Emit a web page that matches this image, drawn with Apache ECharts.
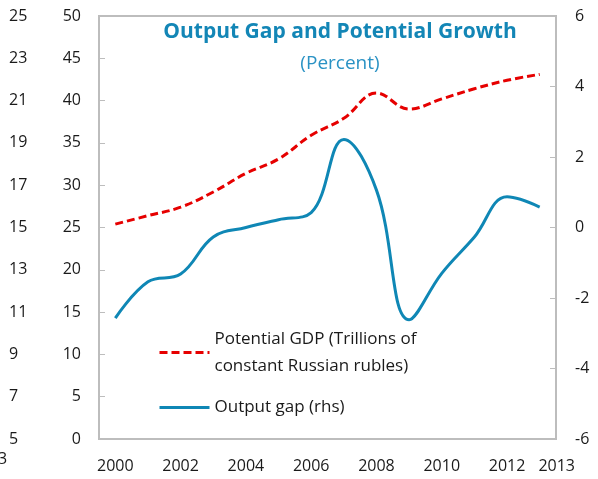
<!DOCTYPE html>
<html>
<head>
<meta charset="utf-8">
<script src="https://cdn.jsdelivr.net/npm/echarts@6/dist/echarts.min.js"></script>
<style>
  html, body { margin: 0; padding: 0; background: #fff; }
  #chart { width: 598px; height: 479px; }
</style>
</head>
<body>
<div id="chart"></div>
<script>
// annual data
var years = ['2000', '2001', '2002', '2003', '2004', '2005', '2006',
  '2007', '2008', '2009', '2010', '2011', '2012', '2013']
var potentialGdp = [25.4, 26.4, 27.4, 29.2, 31.4, 33.1, 35.9, 37.9, 40.9, 39.0, 40.2, 41.4, 42.4, 43.1]
var outputGap = [-2.57, -1.54, -1.32, -0.27, 0.0, 0.22, 0.42, 2.5, 1.06, -2.62, -1.3, -0.27, 0.87, 0.58]

var gdpName = 'Potential GDP (Trillions of constant Russian rubles)'
var gapName = 'Output gap (rhs)'

var font = 'Open Sans'
var gray = '#bdbdbd'
var labelStyle = { color: '#1a1a1a', fontSize: 16, fontFamily: font }

var chart = echarts.init(document.getElementById('chart'))

var option = {
  animation: false,
  title: {
    text: 'Output Gap and Potential Growth',
    subtext: '(Percent)',
    left: 335,
    textAlign: 'center',
    top: 17,
    itemGap: 11,
    textStyle: { color: '#1386b6', fontSize: 21, fontWeight: 'bold', fontFamily: font },
    subtextStyle: { color: '#2a92c4', fontSize: 19, fontFamily: font }
  },
  legend: {
    orient: 'vertical',
    left: 153,
    top: 307,
    itemWidth: 50,
    itemHeight: 14,
    itemGap: 1,
    itemStyle: { opacity: 0 },
    lineStyle: { width: 3 },
    data: [
      { name: gdpName, textStyle: { padding: [27, 0, 0, 0] } },
      { name: gapName }
    ],
    formatter: function(name) {
      return name === gdpName ? 'Potential GDP (Trillions of\nconstant Russian rubles)' : name
    },
    textStyle: { color: '#1a1a1a', fontSize: 17, fontFamily: font, lineHeight: 27 }
  },
  grid: {
    left: 99,
    right: 42,
    top: 16,
    bottom: 40,
    show: true,
    borderColor: gray,
    borderWidth: 2
  },
  xAxis: {
    type: 'category',
    data: years,
    boundaryGap: true,
    axisLine: { lineStyle: { color: gray, width: 2 } },
    axisTick: { inside: true, interval: 1, length: 6, lineStyle: { color: gray } },
    axisLabel: Object.assign({
      margin: 19,
      interval: function(i) { return i % 2 === 0 || i === 13 },
      formatter: function(v, i) { return i === 13 ? '{shift|' + v + '}' : v },
      rich: { shift: { padding: [0, 0, 0, 34], fontSize: 16, fontFamily: font, color: '#1a1a1a' } }
    }, labelStyle)
  },
  yAxis: [
    {
      type: 'value',
      position: 'left',
      min: 0,
      max: 50,
      interval: 5,
      splitLine: { show: false },
      axisLine: { show: true, lineStyle: { color: gray, width: 2 } },
      axisTick: { show: true, inside: true, length: 6, lineStyle: { color: gray } },
      axisLabel: Object.assign({ margin: 18 }, labelStyle)
    },
    {
      type: 'value',
      position: 'right',
      min: -6,
      max: 6,
      interval: 2,
      splitLine: { show: false },
      axisLine: { show: true, lineStyle: { color: gray, width: 2 } },
      axisTick: { show: true, inside: true, length: 6, lineStyle: { color: gray } },
      axisLabel: Object.assign({ margin: 19 }, labelStyle)
    },
    {
      type: 'value',
      position: 'left',
      offset: 82,
      min: 5,
      max: 25,
      interval: 2,
      splitLine: { show: false },
      axisLine: { show: false },
      axisTick: { show: false },
      axisLabel: Object.assign({ margin: 8, align: 'left' }, labelStyle)
    }
  ],
  graphic: [
    {
      type: 'text',
      left: -2,
      top: 451,
      style: { text: '3', fill: '#1a1a1a', fontSize: 16, fontFamily: font }
    }
  ],
  series: [
    {
      name: gdpName,
      type: 'line',
      yAxisIndex: 0,
      data: potentialGdp,
      smooth: 0.4,
      symbol: 'none',
      lineStyle: { color: '#e60000', width: 3, type: [8, 4] },
      itemStyle: { color: '#e60000' }
    },
    {
      name: gapName,
      type: 'line',
      yAxisIndex: 1,
      data: outputGap,
      smooth: 0.4,
      symbol: 'none',
      lineStyle: { color: '#0f87b5', width: 3 },
      itemStyle: { color: '#0f87b5' }
    }
  ]
}

chart.setOption(option)
</script>
</body>
</html>
